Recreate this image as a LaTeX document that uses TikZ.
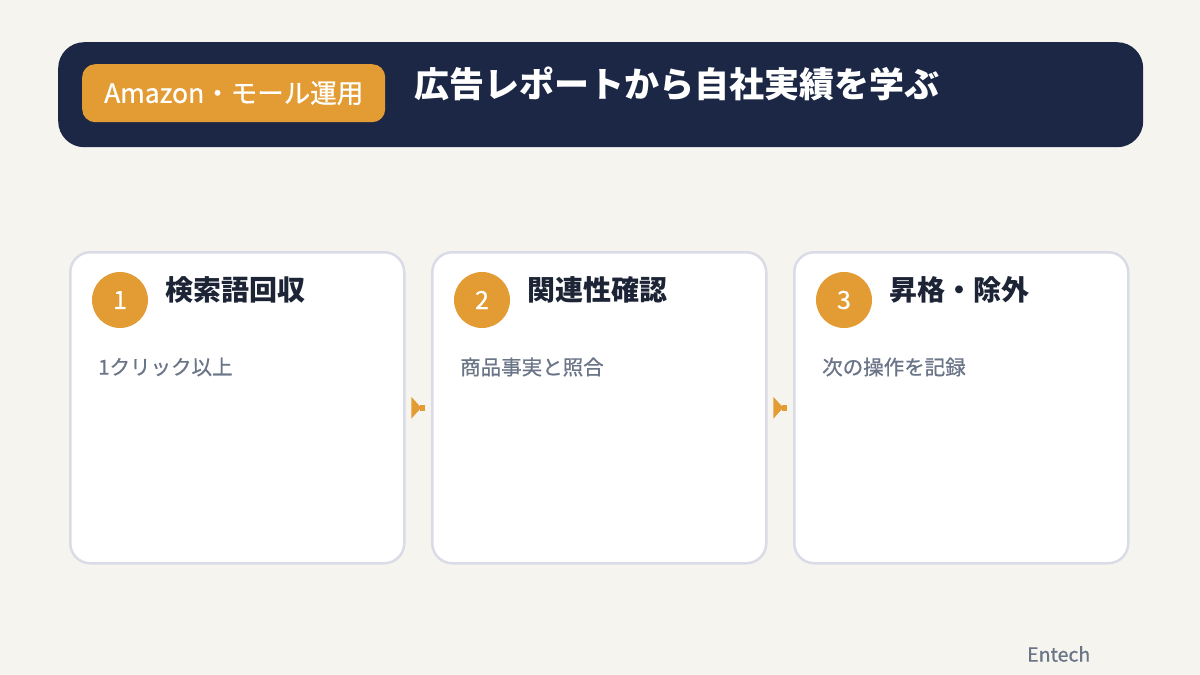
\documentclass[tikz,border=0pt]{standalone}
\usepackage{fontspec}
\setmainfont{Noto Sans CJK JP}
\newfontfamily\medfont{Noto Sans CJK JP}[FakeBold=0.7]
\usetikzlibrary{positioning}
\definecolor{bg}{HTML}{F5F4EF}
\definecolor{navy}{HTML}{1B2744}
\definecolor{orange}{HTML}{E29C33}
\definecolor{cardline}{HTML}{D9DCE6}
\definecolor{subgray}{HTML}{6B7588}
\definecolor{titledark}{HTML}{1C2436}
\tikzset{
  card/.style={draw=cardline, line width=2.5pt, fill=white, rounded corners=20pt, minimum width=334pt, minimum height=311pt, inner sep=0pt},
  numcircle/.style={circle, fill=orange, minimum size=56pt, inner sep=0pt, text=white, font=\medfont\fontsize{25}{25}\selectfont},
  cardtitle/.style={anchor=west, inner sep=0pt, text=titledark, font=\fontsize{28}{28}\selectfont\bfseries},
  cardsub/.style={anchor=west, inner sep=0pt, text=subgray, font=\medfont\fontsize{20.5}{21}\selectfont},
  arrowfill/.style={fill=orange, draw=none}
}
\begin{document}
\begin{tikzpicture}[x=1pt,y=-1pt]
\useasboundingbox (0,0) rectangle (1200,675);
\fill[bg] (0,0) rectangle (1200,675);
% header
\node[fill=navy, rounded corners=26pt, minimum width=1085pt, minimum height=105pt, inner sep=0pt, anchor=north west] (header) at (58,42) {};
\node[fill=orange, rounded corners=13pt, minimum width=303pt, minimum height=58pt, inner sep=0pt, anchor=north west, text=white, font=\medfont\fontsize{26.5}{27}\selectfont] (badge) at (82,64) {Amazon・モール運用};
\node[anchor=west, inner sep=0pt, text=white, font=\fontsize{35}{35}\selectfont\bfseries] (title) at (414,84) {広告レポートから自社実績を学ぶ};
% cards
\foreach \i/\x/\t/\s in {1/69/検索語回収/1クリック以上, 2/431/関連性確認/商品事実と照合, 3/793/昇格・除外/次の操作を記録}{
  \node[card, anchor=north west] (card\i) at (\x,251) {};
  \node[numcircle] (num\i) at (\x+51,300) {\i};
  \node[cardtitle] (ctitle\i) at (\x+96,290) {\t};
  \node[cardsub] (csub\i) at (\x+29,367) {\s};
}
% arrows between cards
\foreach \a/\b in {1/2, 2/3}{
  \path (card\a.east) -- (card\b.west) coordinate[pos=0.5] (mid\a);
  \fill[arrowfill] ([xshift=-7pt,yshift=-11pt]mid\a) -- ([xshift=3pt]mid\a) -- ([xshift=-7pt,yshift=11pt]mid\a) -- cycle;
  \fill[arrowfill] ([xshift=2pt,yshift=-3pt]mid\a) rectangle ([xshift=7pt,yshift=3pt]mid\a);
}
\node[anchor=west, inner sep=0pt, text=subgray, font=\medfont\fontsize{19.5}{20}\selectfont] (brand) at (1027,654) {Entech};
\end{tikzpicture}
\end{document}
